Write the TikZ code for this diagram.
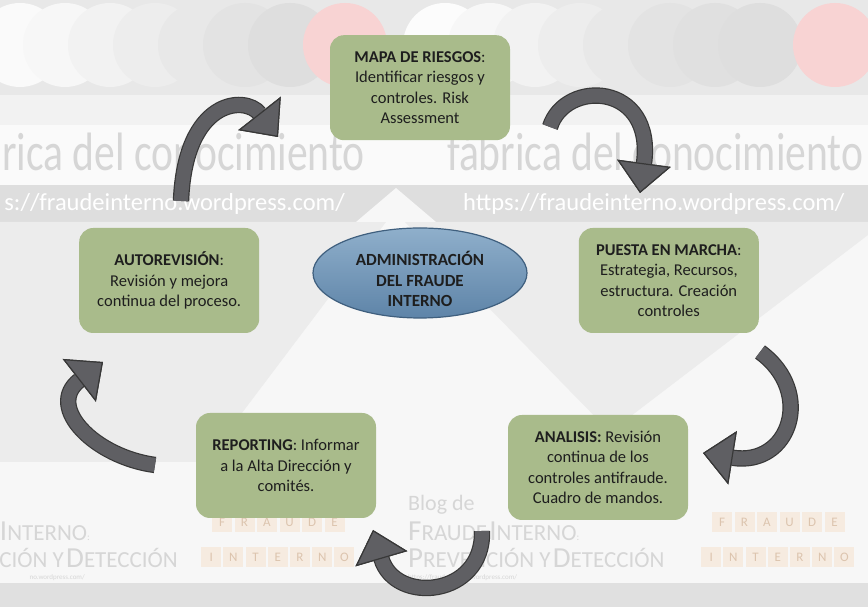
\documentclass[tikz,border=0pt]{standalone}
\usepackage{fontspec}
\setmainfont{Carlito}
\usepackage{tikz}
\usetikzlibrary{arrows.meta, positioning, shapes.geometric}
\usepackage{xcolor}
\definecolor{fraudgreen}{HTML}{A9BB8B}
\definecolor{fraudblue}{HTML}{5E84A8}
\definecolor{fraudbluelt}{HTML}{8FAFCB}
\definecolor{fraudbluedk}{HTML}{3F5F7E}
\definecolor{fraudgrey}{HTML}{5F5F63}
\definecolor{fraudedge}{HTML}{383838}
\definecolor{fraudink}{HTML}{1E1E1E}
\definecolor{wmgrey}{HTML}{D6D6D6}
\definecolor{wmband}{HTML}{DEDEDE}
\definecolor{wmshade}{HTML}{ECECEC}
\definecolor{wmtile}{HTML}{F6EBE0}
\definecolor{wmtiletext}{HTML}{DCC4AE}
\definecolor{wmpink}{HTML}{F8D3D3}
\newcommand\capsc[2]{{\fontsize{29}{29}\selectfont #1}{\fontsize{23}{23}\selectfont #2}}

\begin{document}
\begin{tikzpicture}[x=1pt, y=1pt,
    phase/.style={fill=fraudgreen, rounded corners=14pt, align=center,
                  minimum width=180pt, minimum height=105pt, inner sep=2pt,
                  text=fraudink, font=\fontsize{16.5}{20.5}\selectfont},
    core/.style={ellipse, draw=fraudbluedk, line width=1.2pt,
                 top color=fraudbluelt, bottom color=fraudblue,
                 minimum width=214pt, minimum height=90pt, inner sep=0pt},
    coretext/.style={align=center, inner sep=0pt, text=fraudink,
                     font=\bfseries\fontsize{17}{20.5}\selectfont},
    cyc/.style={draw=fraudgrey, line width=14pt,
                -{Triangle[length=30pt, width=54pt, line width=1.2pt, fill=fraudgrey, color=fraudedge]},
                preaction={draw=fraudedge, line width=16.4pt}},
    wm/.style={text=wmgrey, inner sep=0pt},
    tile/.style={fill=wmtile, text=wmtiletext, minimum size=20pt, inner sep=0pt,
                 font=\fontsize{13}{13}\selectfont}]
  \useasboundingbox (0,0) rectangle (868,607);
  \clip (0,0) rectangle (868,607);
  % watermark background
  \fill[white!97!black] (0,0) rectangle (868,607);
  \fill[white!91!black] (0,512) rectangle (868,607);
  \foreach \cx/\sh in {20/98, 65/97, 110/95, 155/93, 200/91, 245/89, 290/87}
    \fill[white!\sh!black] (\cx,562) circle (42);
  \fill[wmpink] (345,562) circle (42);
  \foreach \cx/\sh in {445/99, 490/97, 535/95, 580/93, 625/91, 670/89, 715/88, 760/87}
    \fill[white!\sh!black] (\cx,562) circle (42);
  \fill[wmpink] (835,562) circle (42);
  \fill[white!95!black] (0,482) rectangle (868,512);
  \fill[white!98!black] (0,422) rectangle (868,482);
  \fill[wmband] (0,385) rectangle (868,422);
  \fill[wmshade] (0,385) -- (386,385) -- (205,145) -- (0,145) -- cycle;
  \fill[wmshade] (405,385) -- (868,385) -- (868,372) -- (610,175) -- cycle;
  \fill[white!97!black] (356,385) -- (396,419) -- (436,385) -- cycle;
  \fill[white!88!black] (0,0) rectangle (868,24);
  \node[wm, anchor=east, xscale=0.77, font=\fontsize{54}{54}\selectfont] (wmleft) at (365,455) {rica del conocimiento};
  \node[wm, anchor=west, xscale=0.77, font=\fontsize{54}{54}\selectfont] (wmright) at (447,455) {fábrica del conocimiento};
  \node[anchor=east, text=white, inner sep=0pt, font=\fontsize{24.5}{24.5}\selectfont] (urlleft) at (345,403) {s://fraudeinterno.wordpress.com/};
  \node[anchor=west, text=white, inner sep=0pt, font=\fontsize{24.5}{24.5}\selectfont] (urlright) at (463,403) {https://fraudeinterno.wordpress.com/};
  \node[wm, anchor=west, font=\fontsize{22}{22}\selectfont] (blog) at (408,102) {Blog de};
  \node[wm, anchor=west] (logoa) at (408,76) {\capsc{F}{RAUDE} \capsc{I}{NTERNO}:};
  \node[wm, anchor=west] (logob) at (408,49) {\capsc{P}{REVENCIÓN Y} \capsc{D}{ETECCIÓN}};
  \node[wm, anchor=west, font=\fontsize{7}{7}\selectfont] (logoc) at (408,29) {https://fraudeinterno.wordpress.com/};
  \node[wm, anchor=east] (logoal) at (90,76) {\capsc{I}{NTERNO}:};
  \node[wm, anchor=east] (logobl) at (178,49) {\capsc{}{CIÓN Y} \capsc{D}{ETECCIÓN}};
  \node[wm, anchor=east, font=\fontsize{7}{7}\selectfont] (logocl) at (85,29) {no.wordpress.com/};
  \foreach \ch [count=\i] in {F,R,A,U,D,E} {
    \node[tile] at (199.5+\i*22.5,85) {\ch};
    \node[tile] at (699.5+\i*22.5,85) {\ch};
  }
  \foreach \ch [count=\i] in {I,N,T,E,R,N,O} {
    \node[tile] at (189+\i*22.2,50) {\ch};
    \node[tile] at (689+\i*22.2,50) {\ch};
  }
  % cycle
  \node[core] (core) at (420,334) {};
  \node[coretext] (corelabel) at ([yshift=-6pt]core.center) {ADMINISTRACIÓN\\DEL FRAUDE\\INTERNO};
  \node[phase, above=87pt of core] (mapa) {\textbf{MAPA DE RIESGOS}:\\Identificar riesgos y\\controles. Risk\\Assessment};
  \node[phase, right=51pt of core, yshift=-7.5pt] (puesta) {\textbf{PUESTA EN MARCHA}:\\Estrategia, Recursos,\\estructura. Creación\\controles};
  \node[phase] (analisis) at (598,139.5) {\textbf{ANALISIS:} Revisión\\continua de los\\controles antifraude.\\Cuadro de mandos.};
  \node[phase] (reporting) at (286,141.5) {\textbf{REPORTING}: Informar\\a la Alta Dirección y\\comités.};
  \node[phase, left=53pt of core, yshift=-7.5pt] (autorev) {\textbf{AUTOREVISIÓN}:\\Revisión y mejora\\continua del proceso.};
  \coordinate (a1s) at (181,406); \coordinate (a1e) at (278,470);
  \coordinate (a2s) at (550,480); \coordinate (a2e) at (640,414);
  \coordinate (a3s) at (760,255); \coordinate (a3e) at (703,154);
  \coordinate (a4s) at (482,76);  \coordinate (a4e) at (373,77);
  \coordinate (a5s) at (155,142); \coordinate (a5e) at (103,245);
  \draw[cyc] (a1s) .. controls (185,508) and (245,512) .. (a1e);
  \draw[cyc] (a2s) .. controls (565,528) and (655,525) .. (a2e);
  \draw[cyc] (a3s) .. controls (815,215) and (790,140) .. (a3e);
  \draw[cyc] (a4s) .. controls (484,10) and (395,2) .. (a4e);
  \draw[cyc] (a5s) .. controls (95,150) and (45,200) .. (a5e);
\end{tikzpicture}
\end{document}
